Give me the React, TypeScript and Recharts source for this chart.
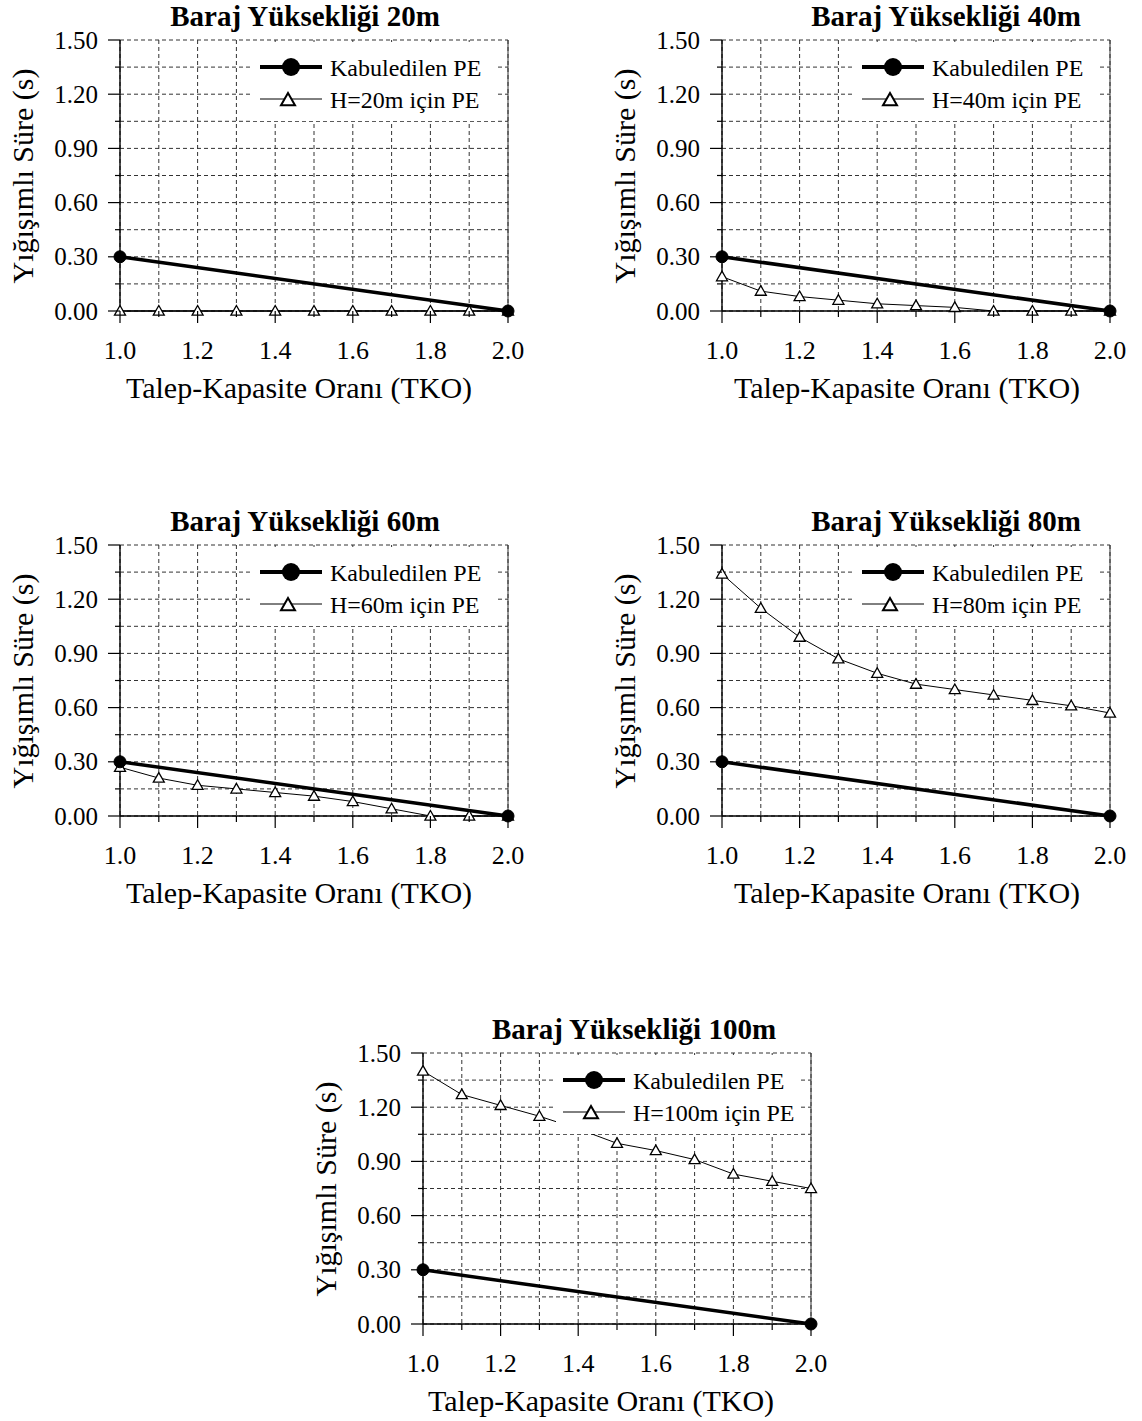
import React from 'react';
import { LineChart, Line, XAxis, YAxis, CartesianGrid, Legend, ReferenceLine } from 'recharts';

// Talep-Kapasite Oranı (TKO) values on the x axis
const tko = [1.0, 1.1, 1.2, 1.3, 1.4, 1.5, 1.6, 1.7, 1.8, 1.9, 2.0];

// Kabuledilen PE (same for every dam height)
const kabulTko = [1.0, 2.0];
const kabulPE = [0.3, 0.0];

// PE for each dam height, read at every TKO value
const pe20 = [0, 0, 0, 0, 0, 0, 0, 0, 0, 0, 0];
const pe40 = [0.19, 0.11, 0.08, 0.06, 0.04, 0.03, 0.02, 0, 0, 0, 0];
const pe60 = [0.27, 0.21, 0.17, 0.15, 0.13, 0.11, 0.08, 0.04, 0, 0, 0];
const pe80 = [1.34, 1.15, 0.99, 0.87, 0.79, 0.73, 0.7, 0.67, 0.64, 0.61, 0.57];
const pe100 = [1.4, 1.27, 1.21, 1.15, 1.08, 1.0, 0.96, 0.91, 0.83, 0.79, 0.75];

const yTicks = [0, 0.15, 0.3, 0.45, 0.6, 0.75, 0.9, 1.05, 1.2, 1.35, 1.5];

const FONT = "'Liberation Serif', 'Times New Roman', serif";

// panel layout (plot area sits at 120,40 inside each panel)
const panels = [
  { h: 20, pe: pe20, left: 0, top: 0, titleX: 305, xLabelX: 299 },
  { h: 40, pe: pe40, left: 602, top: 0, titleX: 344, xLabelX: 305 },
  { h: 60, pe: pe60, left: 0, top: 505, titleX: 305, xLabelX: 299 },
  { h: 80, pe: pe80, left: 602, top: 505, titleX: 344, xLabelX: 305 },
  { h: 100, pe: pe100, left: 303, top: 1013, titleX: 331, xLabelX: 298 },
];

const YTick = (props: any) => {
  const { x, y, payload } = props;
  const v = payload.value;
  const major = Math.round(v * 100) % 30 === 0;
  return (
    <g>
      <line x1={x - (major ? 12 : 5)} x2={x} y1={y} y2={y} stroke="#000" strokeWidth={1.2} />
      {major && (
        <text x={x - 22} y={y + 8.5} textAnchor="end" fontSize={25} fontFamily={FONT} fill="#000">
          {v.toFixed(2)}
        </text>
      )}
    </g>
  );
};

const XTick = (props: any) => {
  const { x, y, payload } = props;
  const v = payload.value;
  const major = Math.round(v * 10) % 2 === 0;
  return (
    <g>
      <line x1={x} x2={x} y1={y} y2={y + (major ? 12 : 6)} stroke="#000" strokeWidth={1.2} />
      {major && (
        <text x={x} y={y + 48} textAnchor="middle" fontSize={26} fontFamily={FONT} fill="#000">
          {v.toFixed(1)}
        </text>
      )}
    </g>
  );
};

const Triangle = ({ cx, cy, size = 5.5, sw = 1.3 }: any) => (
  <polygon
    points={`${cx},${cy - size} ${cx - size},${cy + size * 0.75} ${cx + size},${cy + size * 0.75}`}
    fill="#fff"
    stroke="#000"
    strokeWidth={sw}
  />
);

const LegendBox = (props: any) => {
  const items = props.payload || [];
  const kabul = items.find((i: any) => i.dataKey === 'kabul');
  const pe = items.find((i: any) => i.dataKey === 'pe');
  return (
    <svg width={245} height={79} style={{ background: '#fff', display: 'block' }}>
      <line x1={7} x2={69} y1={25} y2={25} stroke="#000" strokeWidth={4} />
      <circle cx={38} cy={25} r={9} fill="#000" />
      <text x={77} y={34} fontSize={24} fontFamily={FONT} fill="#000">
        {kabul ? kabul.value : ''}
      </text>
      <line x1={7} x2={69} y1={57} y2={57} stroke="#000" strokeWidth={1} />
      <Triangle cx={35} cy={58} size={7} sw={2} />
      <text x={77} y={66} fontSize={24} fontFamily={FONT} fill="#000">
        {pe ? pe.value : ''}
      </text>
    </svg>
  );
};

function Panel({ h, pe, left, top, titleX, xLabelX }: any) {
  const peData = tko.map((x, i) => ({ x, pe: pe[i] }));
  const kabulData = kabulTko.map((x, i) => ({ x, kabul: kabulPE[i] }));
  return (
    <div style={{ position: 'absolute', left, top, width: 540, height: 412 }}>
      <LineChart width={540} height={400} margin={{ top: 40, right: 32, bottom: 29, left: 60 }}>
        <CartesianGrid strokeDasharray="4 3" stroke="#333" strokeWidth={1} />
        <XAxis
          type="number"
          dataKey="x"
          domain={[1, 2]}
          ticks={tko}
          interval={0}
          height={60}
          tickLine={false}
          tickSize={0}
          tickMargin={0}
          tick={<XTick />}
          axisLine={{ stroke: '#000', strokeWidth: 1.6 }}
        />
        <YAxis
          type="number"
          domain={[0, 1.5]}
          ticks={yTicks}
          interval={0}
          width={60}
          tickLine={false}
          tickSize={0}
          tickMargin={0}
          tick={<YTick />}
          axisLine={{ stroke: '#000', strokeWidth: 1.4 }}
        />
        <ReferenceLine x={2} stroke="#333" strokeWidth={1} />
        <Line
          data={peData}
          dataKey="pe"
          name={`H=${h}m için PE`}
          type="linear"
          stroke="#000"
          strokeWidth={1}
          dot={(p: any) => <Triangle key={`t${p.index}`} cx={p.cx} cy={p.cy} />}
          isAnimationActive={false}
        />
        <Line
          data={kabulData}
          dataKey="kabul"
          name="Kabuledilen PE"
          type="linear"
          stroke="#000"
          strokeWidth={3.5}
          dot={{ r: 6, fill: '#000', stroke: '#000', strokeWidth: 1 }}
          isAnimationActive={false}
        />
        <Legend
          layout="horizontal"
          align="center"
          verticalAlign="middle"
          content={<LegendBox />}
          wrapperStyle={{ left: 253, top: 42, width: 245, height: 79 }}
        />
      </LineChart>
      <svg
        width={540}
        height={412}
        style={{ position: 'absolute', left: 0, top: 0, pointerEvents: 'none', overflow: 'visible' }}
      >
        <text x={titleX} y={26} textAnchor="middle" fontWeight="bold" fontSize={29} fontFamily={FONT} fill="#000">
          {`Baraj Yüksekliği ${h}m`}
        </text>
        <text transform="translate(33,176) rotate(-90)" textAnchor="middle" fontSize={30} fontFamily={FONT} fill="#000">
          Yığışımlı Süre (s)
        </text>
        <text x={xLabelX} y={398} textAnchor="middle" fontSize={30} fontFamily={FONT} fill="#000">
          Talep-Kapasite Oranı (TKO)
        </text>
      </svg>
    </div>
  );
}

export default function App() {
  return (
    <div
      style={{
        position: 'absolute',
        left: 0,
        top: 0,
        width: 1142,
        height: 1421,
        overflow: 'hidden',
        background: '#fff',
      }}
    >
      {panels.map((p) => (
        <Panel key={p.h} {...p} />
      ))}
    </div>
  );
}
